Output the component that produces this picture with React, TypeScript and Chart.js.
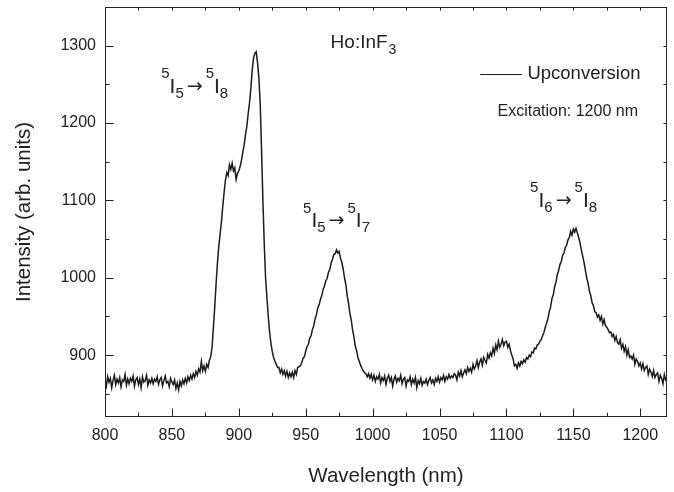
import { useEffect, useRef } from "react";
import { Chart, registerables } from "chart.js";

Chart.register(...registerables);

// ---- data ----
const START_NM = 800;
const STEP_NM = 1;

const INTENSITY_800_879 = [
  868, 860, 872, 865, 870, 858, 867, 874, 862, 869,
  864, 871, 859, 868, 866, 875, 861, 869, 863, 870,
  866, 873, 860, 868, 871, 862, 869, 858, 872, 865,
  867, 874, 861, 868, 864, 870, 863, 869, 866, 872,
  862, 868, 871, 860, 867, 873, 864, 866, 859, 870,
  865, 862, 868, 857, 864, 855, 866, 860, 868, 863,
  870, 864, 872, 867, 874, 869, 876, 871, 879, 874,
  882, 878, 892, 880, 886, 879, 888, 884, 893, 898,
];
const INTENSITY_880_939 = [
  910, 935, 962, 992, 1018, 1040, 1056, 1072, 1092, 1110,
  1126, 1136, 1132, 1146, 1140, 1148, 1138, 1142, 1127, 1135,
  1138, 1144, 1152, 1162, 1172, 1185, 1196, 1212, 1226, 1245,
  1268, 1284, 1290, 1292, 1278, 1258, 1225, 1165, 1100, 1045,
  1000, 975, 950, 930, 915, 905, 897, 892, 888, 884,
  884, 877, 882, 875, 880, 873, 879, 871, 877, 872,
];
const INTENSITY_940_999 = [
  878, 871, 880, 875, 884, 885, 886, 890, 896, 898,
  905, 911, 914, 922, 925, 933, 938, 947, 952, 961,
  965, 972, 977, 985, 989, 996, 999, 1007, 1011, 1019,
  1024, 1030, 1031, 1036, 1032, 1034, 1025, 1020, 1011, 1000,
  991, 977, 967, 954, 946, 933, 924, 912, 906, 897,
  892, 887, 883, 880, 877, 876, 872, 876, 870, 875,
];
const INTENSITY_1000_1059 = [
  868, 874, 866, 872, 869, 875, 864, 871, 867, 873,
  862, 870, 874, 866, 871, 860, 869, 873, 865, 870,
  867, 874, 863, 869, 871, 860, 868, 866, 872, 862,
  869, 864, 871, 858, 867, 863, 870, 861, 866, 864,
  869, 862, 867, 871, 864, 868, 862, 870, 866, 872,
  865, 871, 868, 874, 866, 872, 869, 875, 870, 873,
];
const INTENSITY_1060_1119 = [
  871, 876, 874, 868, 878, 873, 880, 872, 877, 881,
  876, 884, 879, 883, 878, 888, 882, 886, 893, 884,
  891, 895, 887, 897, 893, 890, 901, 896, 903, 899,
  909, 902, 913, 907, 918, 910, 914, 920, 912, 917,
  918, 910, 914, 906, 900, 895, 886, 888, 883, 890,
  886, 892, 889, 894, 891, 897, 895, 900, 898, 904,
];
const INTENSITY_1120_1179 = [
  903, 909, 908, 913, 914, 918, 920, 925, 929, 936,
  941, 947, 956, 962, 973, 978, 988, 994, 1004, 1009,
  1017, 1021, 1029, 1032, 1039, 1042, 1049, 1052, 1060, 1055,
  1063, 1059, 1064, 1058, 1052, 1045, 1036, 1028, 1020, 1010,
  1000, 993, 983, 977, 968, 964, 956, 955, 949, 952,
  945, 950, 940, 946, 938, 936, 933, 929, 930, 924,
];
const INTENSITY_1180_1220 = [
  927, 919, 924, 916, 914, 920, 909, 914, 905, 911,
  900, 907, 897, 899, 895, 900, 888, 895, 892, 886,
  890, 882, 889, 880, 884, 886, 875, 882, 878, 872,
  880, 871, 875, 877, 866, 874, 870, 863, 875, 868,
  871,
];

const INTENSITY = [
  ...INTENSITY_800_879,
  ...INTENSITY_880_939,
  ...INTENSITY_940_999,
  ...INTENSITY_1000_1059,
  ...INTENSITY_1060_1119,
  ...INTENSITY_1120_1179,
  ...INTENSITY_1180_1220,
];

const X_MAJOR = [800, 850, 900, 950, 1000, 1050, 1100, 1150, 1200];
const X_MINOR = [825, 875, 925, 975, 1025, 1075, 1125, 1175];
const X_TOP = [825, 850, 875, 900, 925, 950, 975, 1000, 1025, 1050, 1075, 1100, 1125, 1150, 1175, 1200];
const Y_MAJOR = [900, 1000, 1100, 1200, 1300];
const Y_MINOR = [850, 950, 1050, 1150, 1250];
const Y_RIGHT = [850, 900, 950, 1000, 1050, 1100, 1150, 1200, 1250, 1300];

const SERIES_LABEL = "Upconversion";
const SAMPLE_TITLE = ["Ho:InF", "3"];
const EXCITATION = "Excitation: 1200 nm";

type Part = [string, "sup" | "sub" | "main" | "arrow"];
const TRANSITIONS: { parts: Part[]; x: number; y: number }[] = [
  { parts: [["5", "sup"], ["I", "main"], ["5", "sub"], ["\u2192", "arrow"], ["5", "sup"], ["I", "main"], ["8", "sub"]], x: 842, y: 1239 },
  { parts: [["5", "sup"], ["I", "main"], ["5", "sub"], ["\u2192", "arrow"], ["5", "sup"], ["I", "main"], ["7", "sub"]], x: 948, y: 1065 },
  { parts: [["5", "sup"], ["I", "main"], ["6", "sub"], ["\u2192", "arrow"], ["5", "sup"], ["I", "main"], ["8", "sub"]], x: 1117.7, y: 1091.7 },
];

// ---- styles ----
const FONT = '"Liberation Sans", Arial, Helvetica, sans-serif';
const ARROW_FONT = '"DejaVu Sans", sans-serif';
const TEXT = "#222222";
const LINE = "#1c1c1c";

function drawRich(ctx: CanvasRenderingContext2D, x: number, y: number, parts: Part[]) {
  let cx = x;
  ctx.textBaseline = "alphabetic";
  ctx.textAlign = "left";
  for (const [t, k] of parts) {
    if (k === "sup") {
      ctx.font = `15px ${FONT}`;
      ctx.fillText(t, cx, y - 14.5);
      cx += ctx.measureText(t).width;
    } else if (k === "sub") {
      ctx.font = `15px ${FONT}`;
      ctx.fillText(t, cx, y + 5);
      cx += ctx.measureText(t).width;
    } else if (k === "arrow") {
      ctx.font = `19px ${ARROW_FONT}`;
      cx += 3;
      ctx.fillText(t, cx, y - 1);
      cx += ctx.measureText(t).width + 3;
    } else {
      ctx.font = `21px ${FONT}`;
      ctx.fillText(t, cx, y);
      cx += ctx.measureText(t).width;
    }
  }
}

const decorPlugin = {
  id: "decor",
  afterDatasetsDraw(chart: any) {
    const { ctx, chartArea: a, scales } = chart;
    const xs = scales.x;
    const ys = scales.y;
    ctx.save();
    ctx.strokeStyle = TEXT;
    ctx.lineWidth = 1;
    const L = Math.round(a.left) + 0.5;
    const R = Math.round(a.right) - 0.5;
    const T = Math.round(a.top) + 0.5;
    const B = Math.round(a.bottom) - 0.5;
    ctx.strokeRect(L, T, R - L, B - T);
    const seg = (x1: number, y1: number, x2: number, y2: number) => {
      ctx.beginPath();
      ctx.moveTo(x1, y1);
      ctx.lineTo(x2, y2);
      ctx.stroke();
    };
    const px = (v: number) => Math.round(xs.getPixelForValue(v)) + 0.5;
    const py = (v: number) => Math.round(ys.getPixelForValue(v)) + 0.5;
    X_MAJOR.forEach((v) => seg(px(v), B, px(v), B - 8));
    X_MINOR.forEach((v) => seg(px(v), B, px(v), B - 4));
    X_TOP.forEach((v) => seg(px(v), T, px(v), T + 3));
    Y_MAJOR.forEach((v) => seg(L, py(v), L + 8, py(v)));
    Y_MINOR.forEach((v) => seg(L, py(v), L + 4, py(v)));
    Y_RIGHT.forEach((v) => seg(R, py(v), R - 3, py(v)));

    ctx.fillStyle = TEXT;
    // sample title
    const hx = xs.getPixelForValue(968.6);
    const hy = ys.getPixelForValue(1296.4);
    ctx.textAlign = "left";
    ctx.textBaseline = "alphabetic";
    ctx.font = `19px ${FONT}`;
    ctx.fillText(SAMPLE_TITLE[0], hx, hy);
    const w = ctx.measureText(SAMPLE_TITLE[0]).width;
    ctx.font = `14px ${FONT}`;
    ctx.fillText(SAMPLE_TITLE[1], hx + w + 1, hy + 6);

    // legend
    const ly = ys.getPixelForValue(1264);
    ctx.strokeStyle = LINE;
    ctx.lineWidth = 1;
    seg(xs.getPixelForValue(1080.4), Math.round(ly) + 0.5, xs.getPixelForValue(1111.5), Math.round(ly) + 0.5);
    ctx.textBaseline = "middle";
    ctx.font = `18.5px ${FONT}`;
    ctx.fillText(SERIES_LABEL, xs.getPixelForValue(1115.7), ly);
    ctx.font = `16px ${FONT}`;
    ctx.fillText(EXCITATION, xs.getPixelForValue(1093.3), ys.getPixelForValue(1214.4));

    TRANSITIONS.forEach((tr) => drawRich(ctx, xs.getPixelForValue(tr.x), ys.getPixelForValue(tr.y), tr.parts));
    ctx.restore();
  },
};

export default function App() {
  const ref = useRef<HTMLCanvasElement | null>(null);
  useEffect(() => {
    if (!ref.current) return;
    const points = INTENSITY.map((v, i) => ({ x: START_NM + i * STEP_NM, y: v }));
    const chart = new Chart(ref.current, {
      type: "line",
      data: {
        datasets: [
          {
            label: SERIES_LABEL,
            data: points,
            borderColor: LINE,
            borderWidth: 1.5,
            pointRadius: 0,
            tension: 0,
            fill: false,
          },
        ],
      },
      options: {
        responsive: false,
        animation: false,
        events: [],
        layout: { padding: { left: 0, right: 7, top: 7, bottom: 0 } },
        plugins: { legend: { display: false }, tooltip: { enabled: false } },
        scales: {
          x: {
            type: "linear",
            min: 800,
            max: 1220,
            afterBuildTicks: (s: any) => {
              s.ticks = X_MAJOR.map((value) => ({ value }));
            },
            afterFit: (s: any) => {
              s.height = 75;
              s.paddingLeft = 0;
              s.paddingRight = 0;
            },
            grid: { display: false, drawTicks: false },
            border: { display: false },
            ticks: {
              autoSkip: false,
              maxRotation: 0,
              padding: 9,
              color: TEXT,
              font: { family: FONT, size: 16 },
              callback: (v: any) => String(v),
            },
            title: {
              display: true,
              text: "Wavelength (nm)",
              color: TEXT,
              font: { family: FONT, size: 20.5 },
              padding: { top: 0, bottom: 3 },
            },
          },
          y: {
            type: "linear",
            min: 820,
            max: 1350,
            afterBuildTicks: (s: any) => {
              s.ticks = Y_MAJOR.map((value) => ({ value }));
            },
            afterFit: (s: any) => {
              s.width = 105;
              s.paddingTop = 0;
              s.paddingBottom = 0;
            },
            grid: { display: false, drawTicks: false },
            border: { display: false },
            ticks: {
              autoSkip: false,
              padding: 9,
              color: TEXT,
              font: { family: FONT, size: 16 },
              callback: (v: any) => String(v),
            },
            title: {
              display: true,
              text: "Intensity (arb. units)",
              color: TEXT,
              font: { family: FONT, size: 20.5 },
              padding: { top: 12, bottom: 0 },
            },
          },
        },
      },
      plugins: [decorPlugin],
    } as any);
    return () => chart.destroy();
  }, []);
  return (
    <div style={{ position: "fixed", left: 0, top: 0, width: 674, height: 492, background: "#fff" }}>
      <canvas ref={ref} width={674} height={492} style={{ display: "block" }} />
    </div>
  );
}
